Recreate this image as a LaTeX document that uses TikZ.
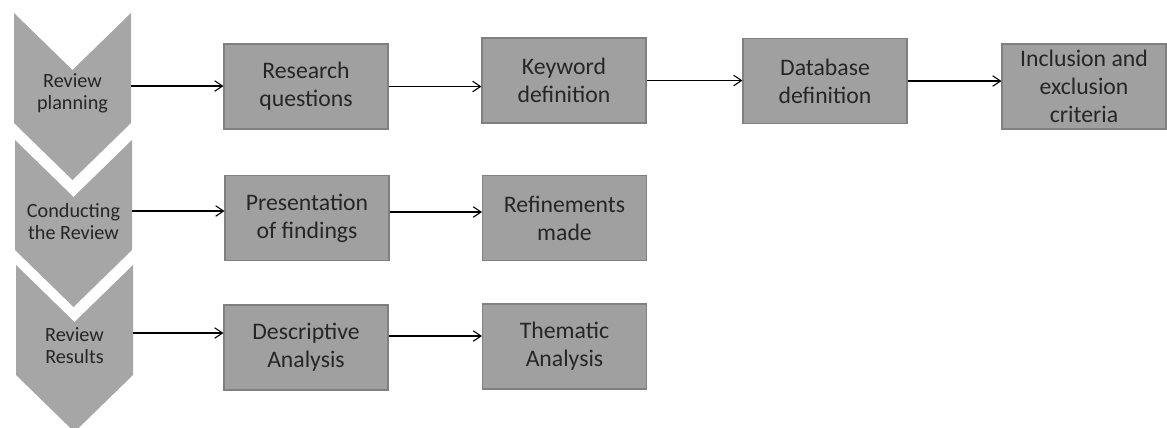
\documentclass[tikz,border=0pt]{standalone}
\usepackage{fontspec}
\setmainfont{Carlito}
\usetikzlibrary{arrows.meta}

\definecolor{phasegray}{RGB}{166,166,166}
\definecolor{boxgray}{RGB}{160,160,160}
\definecolor{boxedge}{RGB}{128,128,128}
\definecolor{textgray}{RGB}{38,38,38}

\tikzset{
	phase/.style={rectangle, text=textgray, minimum width=2.34cm, inner sep=0pt,
		align=center, font=\fontsize{11.5}{12.5}\selectfont},
	task/.style={rectangle, draw=boxedge, line width=0.6pt, fill=boxgray, text=textgray,
		minimum width=3.28cm, minimum height=1.7cm, inner sep=0pt, align=center,
		font=\fontsize{13.5}{15.8}\selectfont},
	link/.style={->, line width=0.6pt}
}

\begin{document}
\begin{tikzpicture}[>={Straight Barb[length=4.5pt,width=6pt]}, x=0.02cm, y=-0.02cm]
	\useasboundingbox (0, 0) rectangle (1167, 427);

	% Mũi tên chữ V của các giai đoạn
	\foreach \xl/\yt in {14/13, 15/140, 16/265} {
		\fill[phasegray] (\xl, \yt) -- (\xl+58.5, \yt+57) -- (\xl+117, \yt) -- (\xl+117, \yt+110)
			-- (\xl+58.5, \yt+167) -- (\xl, \yt+110) -- cycle;
	}

	% Các giai đoạn
	\node[phase] (plan) at (72.5, 93) {Review\\planning};
	\node[phase] (conduct) at (73.5, 222) {Conducting\\the Review};
	\node[phase] (result) at (74.5, 346) {Review\\Results};

	% Hàng 1
	\node[task] (rq) at (306, 86.5) {Research\\questions};
	\node[task] (kw) at (564, 80.5) {Keyword\\definition};
	\node[task] (db) at (825, 81) {Database\\definition};
	\node[task] (inc) at (1084, 86.5) {Inclusion and\\exclusion\\criteria};

	% Hàng 2
	\node[task] (pres) at (307, 218) {Presentation\\of findings};
	\node[task] (refi) at (564.5, 218) {Refinements\\made};

	% Hàng 3
	\node[task] (desc) at (306, 347.5) {Descriptive\\Analysis};
	\node[task] (them) at (564.5, 346.5) {Thematic\\Analysis};

	% Mũi tên
	\draw[link] ([yshift=0.14cm]plan.east) -- ([yshift=0.14cm]plan.east -| rq.west);
	\draw[link] (rq.east) -- (rq.east -| kw.west);
	\draw[link] (kw.east) -- (kw.east -| db.west);
	\draw[link] (db.east) -- (db.east -| inc.west);

	\draw[link] ([yshift=0.22cm]conduct.east) -- ([yshift=0.22cm]conduct.east -| pres.west);
	\draw[link] ([yshift=0.12cm]pres.east) -- ([yshift=0.12cm]pres.east -| refi.west);

	\draw[link] ([yshift=0.26cm]result.east) -- ([yshift=0.26cm]result.east -| desc.west);
	\draw[link] ([yshift=0.23cm]desc.east) -- ([yshift=0.23cm]desc.east -| them.west);
\end{tikzpicture}
\end{document}
